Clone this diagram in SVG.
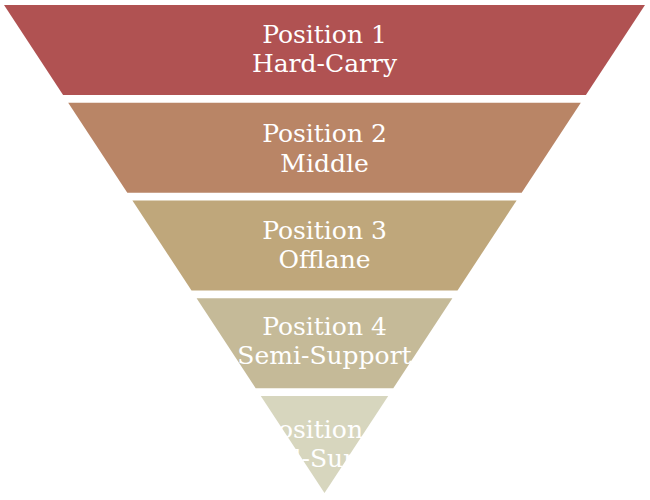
<svg xmlns="http://www.w3.org/2000/svg" width="650" height="500" viewBox="0 0 650 500">
  <style>
    .lbl { font-family: "DejaVu Serif", "Liberation Serif", serif; font-size: 25px; fill: #ffffff; text-anchor: middle; }
  </style>
  <rect width="650" height="500" fill="#ffffff"/>
  <g id="position1">
    <polygon points="4,5 645,5 585.9,95 63.1,95" fill="#B05252"/>
    <text class="lbl" x="324.5" y="43.3">Position 1</text>
    <text class="lbl" x="324.5" y="72.3">Hard-Carry</text>
  </g>
  <g id="position2">
    <polygon points="68.2,102.75 580.8,102.75 521.7,192.75 127.3,192.75" fill="#B98566"/>
    <text class="lbl" x="324.5" y="141.7">Position 2</text>
    <text class="lbl" x="324.5" y="171.7">Middle</text>
  </g>
  <g id="position3">
    <polygon points="132.4,200.5 516.6,200.5 457.5,290.5 191.5,290.5" fill="#BFA77B"/>
    <text class="lbl" x="324.5" y="239">Position 3</text>
    <text class="lbl" x="324.5" y="268.3">Offlane</text>
  </g>
  <g id="position4">
    <polygon points="196.6,298.25 452.4,298.25 393.3,388.25 255.7,388.25" fill="#C5BA98"/>
    <text class="lbl" x="324.5" y="335">Position 4</text>
    <text class="lbl" x="324.5" y="364.3">Semi-Support</text>
  </g>
  <g id="position5">
    <polygon points="260.8,396 388.2,396 324.5,493" fill="#D7D6BE"/>
    <text class="lbl" x="324.5" y="437.7">Position 5</text>
    <text class="lbl" x="324.5" y="466.7">Hard-Support</text>
  </g>
  <g id="connectors"/>
</svg>
